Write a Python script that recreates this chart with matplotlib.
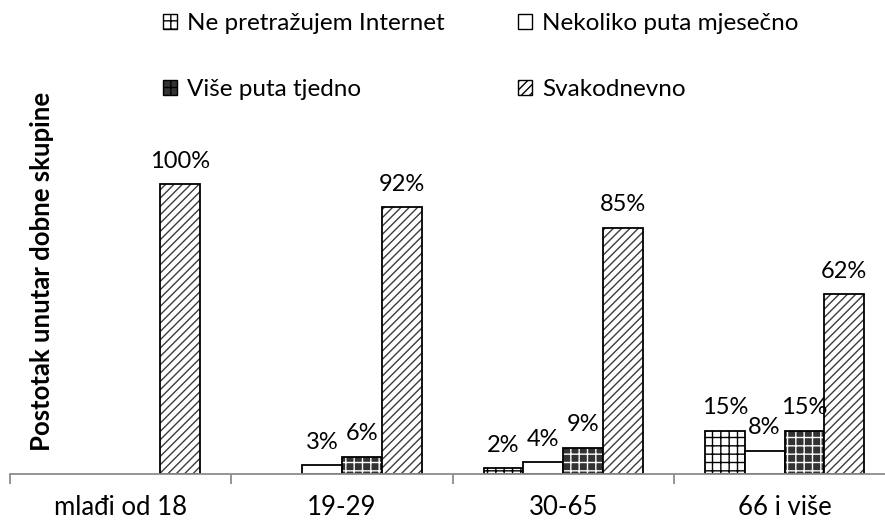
import matplotlib.pyplot as plt
from matplotlib.patches import Patch
import numpy as np

categories = ['mlađi od 18', '19-29', '30-65', '66 i više']
series = ['Ne pretražujem Internet', 'Nekoliko puta mjesečno',
          'Više puta tjedno', 'Svakodnevno']
ne_pretrazujem = [0, 0, 2, 15]
nekoliko_mjesecno = [0, 3, 4, 8]
vise_tjedno = [0, 6, 9, 15]
svakodnevno = [100, 92, 85, 62]
values = [ne_pretrazujem, nekoliko_mjesecno, vise_tjedno, svakodnevno]

plt.rcParams['font.family'] = ['Lato', 'DejaVu Sans']
plt.rcParams['hatch.linewidth'] = 1.0


def main():
    fig = plt.figure(figsize=(8.85, 5.23), dpi=100, facecolor='white')
    ax = fig.add_axes([10 / 885, 1 - 474 / 523, 875 / 885, 348 / 523])

    x = np.arange(len(categories))
    w = 0.18
    offsets = [-1.5, -0.5, 0.5, 1.5]
    # face, hatch colour, hatch
    styles = [('white', 'black', '++'),
              ('white', 'black', ''),
              ('#333333', 'white', '++'),
              ('white', '#3c3c3c', '////')]

    handles = []
    for vals, off, (fc, hc, hatch), name in zip(values, offsets, styles, series):
        pos = x + off * w
        # fill + hatch first, then black outline on top
        ax.bar(pos, vals, w, color=fc, edgecolor=hc, hatch=hatch, linewidth=0)
        bars = ax.bar(pos, vals, w, facecolor='none', edgecolor='black', linewidth=1.3)
        for b, v in zip(bars, vals):
            if v == 0:
                b.set_visible(False)
        labels = ['%d%%' % v if v > 0 else '' for v in vals]
        ax.bar_label(bars, labels=labels, padding=9, fontsize=17)
        handles.append(Patch(facecolor=fc, edgecolor='black', hatch=hatch,
                             linewidth=1.0, label=name))

    ax.set_xlim(-0.5, 3.454)
    ax.set_ylim(0, 120)
    for s in ['left', 'top', 'right']:
        ax.spines[s].set_visible(False)
    ax.spines['bottom'].set_color('#8c8c8c')
    ax.spines['bottom'].set_linewidth(1.3)
    ax.set_yticks([])
    ax.set_xticks(x)
    ax.set_xticklabels(categories, fontsize=18.5)
    ax.tick_params(axis='x', which='major', length=0, pad=15)
    ax.set_xticks([-0.5, 0.5, 1.5, 2.5], minor=True)
    ax.tick_params(axis='x', which='minor', length=7, width=1.3, color='#8c8c8c')

    fig.text(0.047, 1 - 271 / 523, 'Postotak unutar dobne skupine', rotation=90,
             fontsize=18.5, fontweight='bold', ha='center', va='center')

    # legend entries placed one by one: (handle, left x px, centre y px)
    spots = [(handles[0], 163, 24), (handles[1], 518, 24),
             (handles[2], 163, 90), (handles[3], 518, 90)]
    for h, px, py in spots:
        fig.legend(handles=[h], loc='center left', bbox_to_anchor=(px / 885, 1 - py / 523),
                   frameon=False, fontsize=17.5, handlelength=0.58, handleheight=0.58,
                   handletextpad=0.4, borderpad=0, borderaxespad=0)

    fig.savefig('out.png', dpi=100, facecolor='white')


if __name__ == '__main__':
    main()
